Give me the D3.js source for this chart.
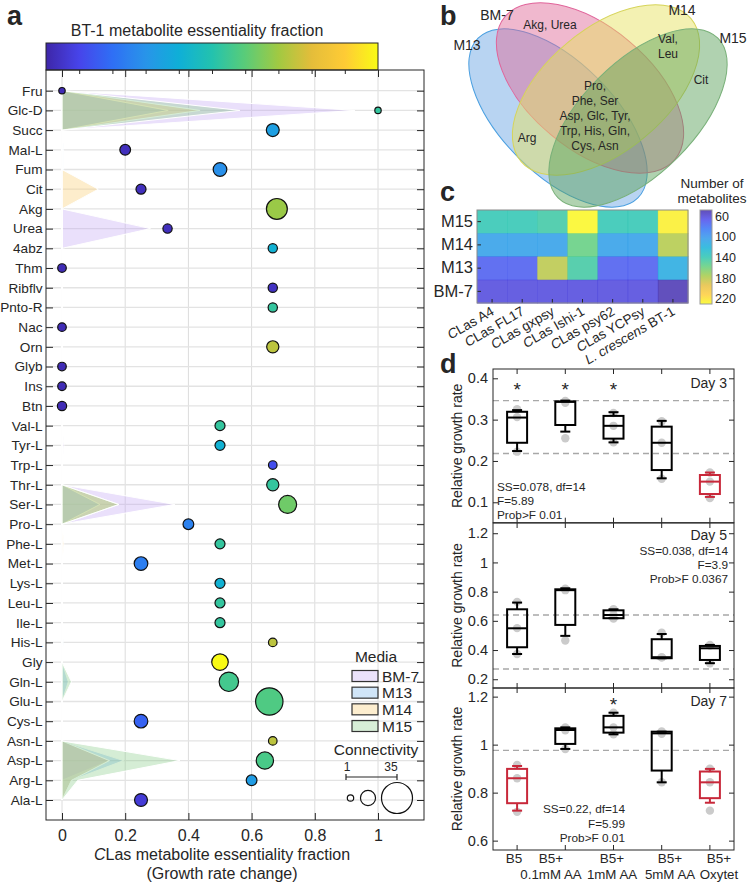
<!DOCTYPE html>
<html><head><meta charset="utf-8">
<script src="https://cdn.jsdelivr.net/npm/d3@7"></script>
<style>
body{margin:0;background:#fff}
svg{display:block}
text{font-family:"Liberation Sans",Arial,Helvetica,sans-serif;fill:#262626}
</style>
</head><body>
<svg id="fig" width="748" height="885"></svg>
<script>
// ================= DATA =================
// Panel a
const metabolites = ["Fru","Glc-D","Succ","Mal-L","Fum","Cit","Akg","Urea","4abz","Thm","Ribflv","Pnto-R","Nac","Orn","Glyb","Ins","Btn","Val-L","Tyr-L","Trp-L","Thr-L","Ser-L","Pro-L","Phe-L","Met-L","Lys-L","Leu-L","Ile-L","His-L","Gly","Gln-L","Glu-L","Cys-L","Asn-L","Asp-L","Arg-L","Ala-L"];
const clasEssentiality = [0,1,0.667,0.2,0.5,0.25,0.68,0.334,0.667,0,0.667,0.667,0,0.667,0,0,0,0.5,0.5,0.667,0.667,0.714,0.4,0.5,0.25,0.5,0.5,0.5,0.667,0.5,0.528,0.656,0.25,0.667,0.642,0.6,0.25];
const bt1Essentiality = [0.02,0.53,0.34,0.03,0.29,0.03,0.69,0.03,0.41,0.02,0.04,0.53,0.02,0.74,0.02,0.02,0.02,0.53,0.41,0.12,0.53,0.63,0.25,0.53,0.24,0.41,0.53,0.53,0.74,1.0,0.56,0.58,0.17,0.74,0.57,0.33,0.07];
const connectivity = [1,1,10,7,11,6,21,5,5,4,5,5,4,9,4,4,5,6,6,4,9,17,7,6,11,6,6,6,4,15,19,30,11,4,16,7,10];
const mediaNames = ["BM-7","M13","M14","M15"];
const mediaBM7 = [0,0.927,0,0,0,0,0,0.28,0,0, 0,0,0,0,0,0,0,0,0.006,0, 0,0.357,0,0.004,0,0,0,0,0,0, 0,0,0,0,0.15,0,0];
const mediaM13 = [0,0.336,0,0.005,0.005,0,0,0,0,0, 0,0,0,0,0,0,0,0,0,0, 0,0.12,0,0,0,0,0,0,0.004,0, 0.02,0,0,0,0.195,0.03,0];
const mediaM14 = [0,0.437,0,0,0,0.115,0,0,0,0, 0,0,0,0,0,0,0,0,0,0, 0,0.18,0,0.006,0,0,0,0,0,0, 0,0,0,0,0.15,0.03,0];
const mediaM15 = [0,0.563,0,0,0,0,0,0,0,0, 0,0,0,0,0,0,0,0,0,0, 0,0.18,0,0,0,0,0,0,0,0, 0.03,0,0,0,0.373,0.05,0];
const xTicksA = [0,0.2,0.4,0.6,0.8,1];
const legendConnectivity = [1,13,35];

// Panel b (Venn)
const vennSets = ["M13","BM-7","M14","M15"];
const vennRegionLabels = [["Akg, Urea"],["Val,","Leu"],["Cit"],["Arg"],["Pro,","Phe, Ser","Asp, Glc, Tyr,","Trp, His, Gln,","Cys, Asn"]];

// Panel c (heatmap)
const strainPrefix = ["CLas","CLas","CLas","CLas","CLas","CLas","L. crescens"];
const strainName = ["A4","FL17","gxpsy","Ishi-1","psy62","YCPsy","BT-1"];
const heatMedia = ["M15","M14","M13","BM-7"];
const heatM15 = [139,139,144,228,139,139,225];
const heatM14 = [106,106,106,157,106,106,179];
const heatM13 = [72,72,181,145,72,72,114];
const heatBM7 = [62,62,62,62,62,62,50];
const heatTicks = [60,100,140,180,220];

// Panel d (box plots) : [low whisker, q1, median, q3, high whisker]
const groupLine1 = ["B5","B5+","B5+","B5+","B5+"];
const groupLine2 = ["","0.1mM AA","1mM AA","5mM AA","Oxytet"];
const day3Box = [[0.224,0.244,0.305,0.319,0.323],[0.271,0.287,0.343,0.344,0.346],[0.245,0.254,0.285,0.309,0.318],[0.158,0.178,0.244,0.283,0.297],[0.113,0.12,0.15,0.166,0.172]];
const day3Pts = [[0.2225,0.306,0.325],[0.255,0.341,0.345],[0.245,0.285,0.316],[0.157,0.244,0.296],[0.11,0.15,0.172]];
const day5Box = [[0.373,0.419,0.549,0.679,0.725],[0.497,0.572,0.81,0.816,0.823],[0.618,0.618,0.64,0.672,0.679],[0.344,0.344,0.351,0.474,0.51],[0.31,0.332,0.412,0.428,0.435]];
const day5Pts = [[0.373,0.55,0.73],[0.465,0.81,0.82],[0.615,0.64,0.68],[0.35,0.35,0.518],[0.31,0.43,0.435]];
const day7Box = [[0.725,0.756,0.86,0.899,0.911],[0.982,1.003,1.061,1.068,1.072],[1.043,1.05,1.072,1.12,1.133],[0.843,0.892,1.047,1.054,1.054],[0.758,0.777,0.843,0.888,0.899]];
const day7Pts = [[0.72,0.86,0.915],[0.982,1.06,1.072],[1.043,1.072,1.133],[0.843,1.045,1.055],[0.725,0.843,0.9]];
const day3Red = [0,0,0,0,1], day5Red = [0,0,0,0,0], day7Red = [1,0,0,0,1];
const day3Star = [1,1,1,0,0], day5Star = [0,0,0,0,0], day7Star = [0,0,1,0,0];
const day3Ref = [0.346,0.218], day5Ref = [0.64,0.27], day7Ref = [0.976];
const day3Stats = ["SS=0.078, df=14","F=5.89","Prob>F 0.01"];
const day5Stats = ["SS=0.038, df=14","F=3.9","Prob>F 0.0367"];
const day7Stats = ["SS=0.22, df=14","F=5.99","Prob>F 0.01"];
const day3Ticks = [0.1,0.2,0.3,0.4], day5Ticks = [0.2,0.4,0.6,0.8,1,1.2], day7Ticks = [0.6,0.8,1,1.2];

// ================= HELPERS =================
const INK = "#262626";
const FONT = '"Liberation Sans", Arial, Helvetica, sans-serif';
const parulaStops = ["#3e26a8","#4744ea","#2f6ff5","#2894e9","#0fafd7","#23c2ae","#5acc78","#a1c942","#e4bd3a","#fecb35","#f9fb15"];
const parula = d3.piecewise(d3.interpolateRgb, parulaStops);
const svg = d3.select("#fig");
const defs = svg.append("defs");
function styleAxis(g, size){
  g.attr("font-family", FONT).attr("font-size", size).attr("color", INK);
  g.select(".domain").remove();
  g.selectAll("text").attr("fill", INK);
}
function panelLetter(t, x, y){
  svg.append("text").attr("x",x).attr("y",y).attr("font-size",27).attr("font-weight","bold").attr("fill","#000").text(t);
}

// ================= PANEL A =================
const A = {l:46, r:424, t:70, b:820};
const xA = d3.scaleLinear().domain([0,1]).range([62,378]);
const yA = d3.scalePoint().domain(metabolites).range([90.7,800]);
const gA = svg.append("g");

// colorbar
const gradA = defs.append("linearGradient").attr("id","gradA").attr("x1","0").attr("x2","1").attr("y1","0").attr("y2","0");
d3.range(0,1.0001,0.025).forEach(t=>gradA.append("stop").attr("offset",t).attr("stop-color",parula(t)));
const cbA = d3.scaleLinear().domain([0,1]).range([46,378]);
gA.append("rect").attr("x",cbA(0)).attr("y",43).attr("width",cbA(1)-cbA(0)).attr("height",27).attr("fill","url(#gradA)").attr("stroke",INK).attr("stroke-width",1);
gA.append("g").attr("transform","translate(0,70)").call(d3.axisTop(cbA).tickValues(d3.range(1,10).map(i=>i/10)).tickSizeInner(-4).tickSizeOuter(0).tickFormat(""))
  .call(g=>styleAxis(g,10));
gA.append("text").attr("x",197).attr("y",36).attr("text-anchor","middle").attr("font-size",16).text("BT-1 metabolite essentiality fraction");

// grid
gA.selectAll("line.vg").data(xTicksA).join("line").attr("class","vg")
  .attr("x1",d=>xA(d)).attr("x2",d=>xA(d)).attr("y1",A.t).attr("y2",A.b).attr("stroke","#dcdcdc").attr("stroke-width",1);
gA.selectAll("line.hg").data(metabolites).join("line").attr("class","hg")
  .attr("x1",A.l).attr("x2",A.r).attr("y1",d=>yA(d)).attr("y2",d=>yA(d)).attr("stroke","#e3e3e3").attr("stroke-width",1.3);

// media areas
const mediaSeries = [mediaBM7, mediaM13, mediaM14, mediaM15];
const mediaColors = ["#c0a5f2","#6eaee8","#f8ca69","#84ca84"];
const areaGen = d3.area().y((d,i)=>yA(metabolites[i])).x0(xA(0)).x1(d=>xA(d));
gA.selectAll("path.media").data(mediaSeries).join("path").attr("class","media")
  .attr("d",areaGen).attr("fill",(d,i)=>mediaColors[i]).attr("fill-opacity",0.34)
  .attr("stroke","#fff").attr("stroke-width",1).attr("stroke-linejoin","bevel");

// bubbles
const rA = d3.scaleLinear().domain([1,35]).range([3.2,15.5]);
gA.selectAll("circle.bub").data(metabolites).join("circle").attr("class","bub")
  .attr("cx",(d,i)=>xA(clasEssentiality[i])).attr("cy",d=>yA(d))
  .attr("r",(d,i)=>rA(connectivity[i])).attr("fill",(d,i)=>parula(bt1Essentiality[i]))
  .attr("stroke","#111").attr("stroke-width",1.2);

// axes
gA.append("g").attr("transform",`translate(${A.l},0)`).call(d3.axisLeft(yA).tickSizeInner(-7).tickSizeOuter(0).tickPadding(3.5)).call(g=>styleAxis(g,13.6));
gA.append("g").attr("transform",`translate(${A.r},0)`).call(d3.axisRight(yA).tickSizeInner(-7).tickSizeOuter(0).tickFormat("")).call(g=>styleAxis(g,10));
gA.append("g").attr("transform",`translate(0,${A.t})`).call(d3.axisTop(xA).tickValues(xTicksA).tickSizeInner(-7).tickSizeOuter(0).tickFormat("")).call(g=>styleAxis(g,10));
gA.append("g").attr("transform",`translate(0,${A.b})`).call(d3.axisBottom(xA).tickValues(xTicksA).tickSizeInner(-7).tickSizeOuter(0).tickPadding(9.5).tickFormat(d=>d3.format("~g")(d))).call(g=>styleAxis(g,16));
gA.append("rect").attr("x",A.l).attr("y",A.t).attr("width",A.r-A.l).attr("height",A.b-A.t).attr("fill","none").attr("stroke",INK).attr("stroke-width",1);

const xt = gA.append("text").attr("x",222).attr("y",860).attr("text-anchor","middle").attr("font-size",16);
xt.append("tspan").attr("font-style","italic").text("C");
xt.append("tspan").text("Las metabolite essentiality fraction");
gA.append("text").attr("x",222).attr("y",879).attr("text-anchor","middle").attr("font-size",16).text("(Growth rate change)");

// legend
const lg = gA.append("g");
lg.append("text").attr("x",376).attr("y",662).attr("text-anchor","middle").attr("font-size",15.5).text("Media");
const legY = d3.scalePoint().domain(mediaNames).range([676,726]);
mediaNames.forEach((m,i)=>{
  lg.append("rect").attr("x",352).attr("y",legY(m)-5.5).attr("width",26).attr("height",11)
    .attr("fill",mediaColors[i]).attr("fill-opacity",0.32).attr("stroke","#333").attr("stroke-width",1.2);
  lg.append("text").attr("x",382).attr("y",legY(m)+5.5).attr("font-size",15.5).text(m);
});
lg.append("text").attr("x",376).attr("y",755).attr("text-anchor","middle").attr("font-size",15.5).text("Connectivity");
lg.append("text").attr("x",347).attr("y",771).attr("text-anchor","middle").attr("font-size",12).text(legendConnectivity[0]);
lg.append("text").attr("x",391).attr("y",771).attr("text-anchor","middle").attr("font-size",12).text(legendConnectivity[2]);
lg.append("line").attr("x1",346).attr("x2",397).attr("y1",777).attr("y2",777).attr("stroke",INK).attr("stroke-width",1.2);
lg.append("line").attr("x1",346).attr("x2",346).attr("y1",774).attr("y2",780).attr("stroke",INK).attr("stroke-width",1.2);
lg.append("line").attr("x1",397).attr("x2",397).attr("y1",774).attr("y2",780).attr("stroke",INK).attr("stroke-width",1.2);
const legCx = [350.5,368,397];
legendConnectivity.forEach((c,i)=>{
  lg.append("circle").attr("cx",legCx[i]).attr("cy",798).attr("r",rA(c)).attr("fill","none").attr("stroke","#111").attr("stroke-width",1.2);
});

panelLetter("a",7,25);

// ================= PANEL B (Venn) =================
const gB = svg.append("g");
const vennGeom = [
  {cx:558, cy:118, rx:113, ry:56, rot:45, fill:"#6aa6e4", stroke:"#4a9fe0"},
  {cx:590, cy:88, rx:111, ry:61, rot:40, fill:"#e06a98", stroke:"#e0649a"},
  {cx:606, cy:90, rx:111, ry:61, rot:-40, fill:"#e6e25e", stroke:"#d6d45a"},
  {cx:638, cy:118, rx:113, ry:56, rot:-45, fill:"#5aa05a", stroke:"#79b079"}
];
gB.selectAll("ellipse").data(vennGeom).join("ellipse")
  .attr("transform",d=>`translate(${d.cx},${d.cy}) rotate(${d.rot})`)
  .attr("rx",d=>d.rx).attr("ry",d=>d.ry).attr("fill",d=>d.fill).attr("fill-opacity",0.48)
  .attr("stroke",d=>d.stroke).attr("stroke-width",1);
const vennNamePos = [[467,50],[497,20],[682,15],[733,43]];
vennSets.forEach((s,i)=>gB.append("text").attr("x",vennNamePos[i][0]).attr("y",vennNamePos[i][1]).attr("text-anchor","middle").attr("font-size",14).text(s));
const regionPos = [[550,29],[668,43],[701,84],[527,142],[595,90]];
vennRegionLabels.forEach((lines,i)=>{
  lines.forEach((ln,j)=>gB.append("text").attr("x",regionPos[i][0]).attr("y",regionPos[i][1]+j*15).attr("text-anchor","middle").attr("font-size",12).attr("fill","#1a1a1a").text(ln));
});
panelLetter("b",440,25);

// ================= PANEL C (heatmap) =================
const gC = svg.append("g");
const heatRows = [heatM15, heatM14, heatM13, heatBM7];
const xC = d3.scaleBand().domain(strainName).range([477,688]);
const yC = d3.scaleBand().domain(heatMedia).range([210,303]);
const colC = d3.scaleSequential(parula).domain([48,230]);
heatRows.forEach((row,ri)=>{
  gC.selectAll(`rect.r${ri}`).data(row).join("rect").attr("class",`r${ri}`)
    .attr("x",(d,i)=>xC(strainName[i])).attr("y",yC(heatMedia[ri]))
    .attr("width",xC.bandwidth()+0.5).attr("height",yC.bandwidth()+0.5)
    .attr("fill",d=>colC(d)).attr("fill-opacity",0.82);
});
gC.append("g").attr("transform","translate(477,0)").call(d3.axisLeft(yC).tickSizeInner(-4).tickSizeOuter(0).tickPadding(4)).call(g=>styleAxis(g,16.5));
gC.append("g").attr("transform","translate(0,303)").call(d3.axisBottom(xC).tickSizeInner(-4).tickSizeOuter(0).tickFormat("")).call(g=>styleAxis(g,10));
gC.append("rect").attr("x",477).attr("y",210).attr("width",211).attr("height",93).attr("fill","none").attr("stroke","#8a8a8a").attr("stroke-width",1);
strainName.forEach((s,i)=>{
  const t = gC.append("text").attr("transform",`translate(${xC(s)+xC.bandwidth()/2+3},${314}) rotate(-30)`).attr("text-anchor","end").attr("font-size",13.5);
  if(strainPrefix[i]==="CLas"){ t.append("tspan").attr("font-style","italic").text("C"); t.append("tspan").text("Las " + s); }
  else { t.append("tspan").attr("font-style","italic").text(strainPrefix[i]); t.append("tspan").text(" " + s); }
});
// colorbar c
const gradC = defs.append("linearGradient").attr("id","gradC").attr("x1","0").attr("x2","0").attr("y1","0").attr("y2","1");
d3.range(0,1.0001,0.025).forEach(t=>gradC.append("stop").attr("offset",t).attr("stop-color",parula(t)));
const cbC = d3.scaleLinear().domain([48,230]).range([210,304]);
gC.append("rect").attr("x",700).attr("y",210).attr("width",12).attr("height",94).attr("fill","url(#gradC)").attr("fill-opacity",0.82).attr("stroke","#9a9a9a").attr("stroke-width",1);
gC.append("g").attr("transform","translate(712,0)").call(d3.axisRight(cbC).tickValues(heatTicks).tickSizeInner(0).tickSizeOuter(0).tickPadding(3)).call(g=>styleAxis(g,12.5));
gC.append("text").attr("x",712).attr("y",188).attr("text-anchor","middle").attr("font-size",13.5).text("Number of");
gC.append("text").attr("x",712).attr("y",203).attr("text-anchor","middle").attr("font-size",13.5).text("metabolites");
panelLetter("c",440,201);

// ================= PANEL D (box plots) =================
const gD = svg.append("g");
const xD = d3.scaleBand().domain(d3.range(groupLine1.length)).range([493,734]);
const labelX = [514,551,612,670,719];
const RED = "#c8283a";
const dayPanels = [
  {name:"Day 3", box:day3Box, pts:day3Pts, red:day3Red, star:day3Star, starLevel:0.384, ref:day3Ref, stats:day3Stats, ticks:day3Ticks, dom:[0.0506,0.4225], top:369, bot:522.7, statAlign:"start", nameDy:19},
  {name:"Day 5", box:day5Box, pts:day5Pts, red:day5Red, star:day5Star, starLevel:1.2, ref:day5Ref, stats:day5Stats, ticks:day5Ticks, dom:[0.14,1.27], top:523, bot:688, statAlign:"endTop", nameDy:17},
  {name:"Day 7", box:day7Box, pts:day7Pts, red:day7Red, star:day7Star, starLevel:1.186, ref:day7Ref, stats:day7Stats, ticks:day7Ticks, dom:[0.561,1.236], top:688, bot:850, statAlign:"endMid", nameDy:17.5}
];
dayPanels.forEach((P,pi)=>{
  const g = gD.append("g");
  const y = d3.scaleLinear().domain(P.dom).range([P.bot,P.top]);
  g.selectAll("line.ref").data(P.ref).join("line").attr("class","ref")
    .attr("x1",493).attr("x2",734).attr("y1",d=>y(d)).attr("y2",d=>y(d))
    .attr("stroke","#a8a8a8").attr("stroke-width",1.3).attr("stroke-dasharray","6,4");
  P.pts.forEach((arr,gi)=>{
    g.selectAll(`circle.p${gi}`).data(arr).join("circle").attr("class",`p${gi}`)
      .attr("cx",xD(gi)+xD.bandwidth()/2).attr("cy",d=>y(d)).attr("r",4.2).attr("fill","#cbcbcb");
  });
  P.box.forEach((b,gi)=>{
    const cx = xD(gi)+xD.bandwidth()/2, col = P.red[gi] ? RED : "#000";
    const bw = 20, cw = 10;
    const bg = g.append("g").attr("stroke",col).attr("stroke-width",2).attr("fill","none");
    bg.append("line").attr("x1",cx).attr("x2",cx).attr("y1",y(b[0])).attr("y2",y(b[1]));
    bg.append("line").attr("x1",cx).attr("x2",cx).attr("y1",y(b[3])).attr("y2",y(b[4]));
    bg.append("line").attr("x1",cx-cw/2).attr("x2",cx+cw/2).attr("y1",y(b[0])).attr("y2",y(b[0]));
    bg.append("line").attr("x1",cx-cw/2).attr("x2",cx+cw/2).attr("y1",y(b[4])).attr("y2",y(b[4]));
    bg.append("rect").attr("x",cx-bw/2).attr("y",y(b[3])).attr("width",bw).attr("height",Math.max(0.5,y(b[1])-y(b[3])));
    bg.append("line").attr("x1",cx-bw/2).attr("x2",cx+bw/2).attr("y1",y(b[2])).attr("y2",y(b[2]));
    if(P.star[gi]) g.append("text").attr("x",cx).attr("y",y(P.starLevel)+11).attr("text-anchor","middle").attr("font-size",19).attr("fill","#111").text("*");
  });
  g.append("g").attr("transform","translate(493,0)").call(d3.axisLeft(y).tickValues(P.ticks).tickSizeInner(-5).tickSizeOuter(0).tickPadding(5).tickFormat(d=>d3.format("~g")(d))).call(a=>styleAxis(a,14.5));
  g.append("g").attr("transform","translate(734,0)").call(d3.axisRight(y).tickValues(P.ticks).tickSizeInner(-5).tickSizeOuter(0).tickFormat("")).call(a=>styleAxis(a,10));
  g.append("g").attr("transform",`translate(0,${P.top})`).call(d3.axisTop(xD).tickSizeInner(-5).tickSizeOuter(0).tickFormat("")).call(a=>styleAxis(a,10));
  g.append("g").attr("transform",`translate(0,${P.bot})`).call(d3.axisBottom(xD).tickSizeInner(-5).tickSizeOuter(0).tickFormat("")).call(a=>styleAxis(a,10));
  g.append("rect").attr("x",493).attr("y",P.top).attr("width",241).attr("height",P.bot-P.top).attr("fill","none").attr("stroke",INK).attr("stroke-width",1);
  g.append("text").attr("x",727).attr("y",P.top+P.nameDy).attr("text-anchor","end").attr("font-size",14).text(P.name);
  g.append("text").attr("transform",`translate(462,${(P.top+P.bot)/2}) rotate(-90)`).attr("text-anchor","middle").attr("font-size",14).text("Relative growth rate");
  P.stats.forEach((s,si)=>{
    let x, yy, anchor;
    if(P.statAlign==="start"){ x=497; yy=491+si*14.2; anchor="start"; }
    else if(P.statAlign==="endTop"){ x=728; yy=555+si*14.2; anchor="end"; }
    else { x=625; yy=813+si*14.5; anchor="end"; }
    g.append("text").attr("x",x).attr("y",yy).attr("text-anchor",anchor).attr("font-size",11.8).text(s);
  });
});
groupLine1.forEach((t,i)=>{
  gD.append("text").attr("x",labelX[i]).attr("y",863).attr("text-anchor","middle").attr("font-size",13.5).text(t);
  if(groupLine2[i]) gD.append("text").attr("x",labelX[i]).attr("y",879).attr("text-anchor","middle").attr("font-size",13.3).text(groupLine2[i]);
});
panelLetter("d",440,373);
</script>
</body></html>
